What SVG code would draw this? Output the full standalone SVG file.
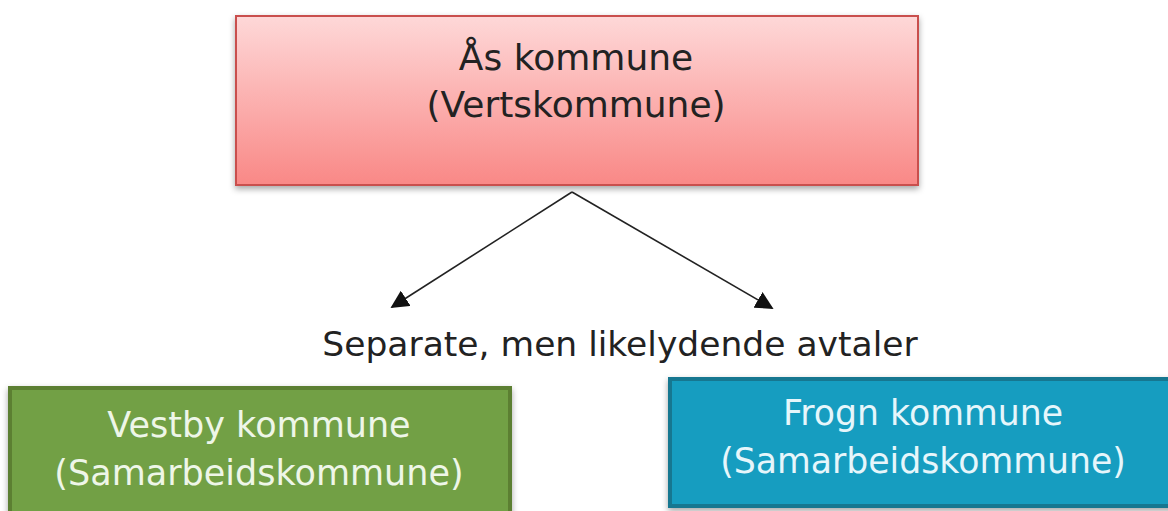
<svg xmlns="http://www.w3.org/2000/svg" width="1168" height="511" viewBox="0 0 1168 511">
<defs>
<linearGradient id="gRed" x1="0" y1="0" x2="0" y2="1">
<stop offset="0" stop-color="#fed8d8"/>
<stop offset="1" stop-color="#f98886"/>
</linearGradient>
<filter id="sh" x="-5%" y="-10%" width="110%" height="125%">
<feDropShadow dx="0" dy="3" stdDeviation="3" flood-color="#000" flood-opacity="0.35"/>
</filter>
<marker id="ah" viewBox="0 0 10 10" refX="9" refY="5" markerWidth="18" markerHeight="18" markerUnits="userSpaceOnUse" orient="auto">
<path d="M0,0 L10,5 L0,10 z" fill="#111"/>
</marker>
</defs>
<style>
text{font-family:"DejaVu Sans",Verdana,sans-serif;text-anchor:middle}
.dark{fill:#222}
.light{fill:#eef6e8}
.lightb{fill:#e6f6fb}
.conn{stroke:#222;stroke-width:1.6;fill:none;marker-end:url(#ah)}
</style>
<rect width="1168" height="511" fill="#fff"/>
<g id="as">
<rect x="236" y="16" width="682" height="169" fill="url(#gRed)" stroke="#c9504e" stroke-width="2" filter="url(#sh)"/>
<text class="dark" x="576" y="70" font-size="36">Ås kommune</text>
<text class="dark" x="576" y="117" font-size="36">(Vertskommune)</text>
</g>
<g id="connectors">
<line class="conn" x1="572" y1="192" x2="392" y2="307"/>
<line class="conn" x1="572" y1="192" x2="772" y2="308"/>
</g>
<g id="label">
<text class="dark" x="620" y="356" font-size="34.5">Separate, men likelydende avtaler</text>
</g>
<g id="vestby">
<rect x="10" y="388" width="500" height="140" fill="#72a044" stroke="#5b7f33" stroke-width="4" filter="url(#sh)"/>
<text class="light" x="259" y="437" font-size="35">Vestby kommune</text>
<text class="light" x="259" y="485" font-size="35">(Samarbeidskommune)</text>
</g>
<g id="frogn">
<rect x="670" y="379" width="510" height="127" fill="#179dc0" stroke="#137790" stroke-width="4" filter="url(#sh)"/>
<text class="lightb" x="923" y="425" font-size="34.7">Frogn kommune</text>
<text class="lightb" x="923" y="473" font-size="34.7">(Samarbeidskommune)</text>
</g>
</svg>
